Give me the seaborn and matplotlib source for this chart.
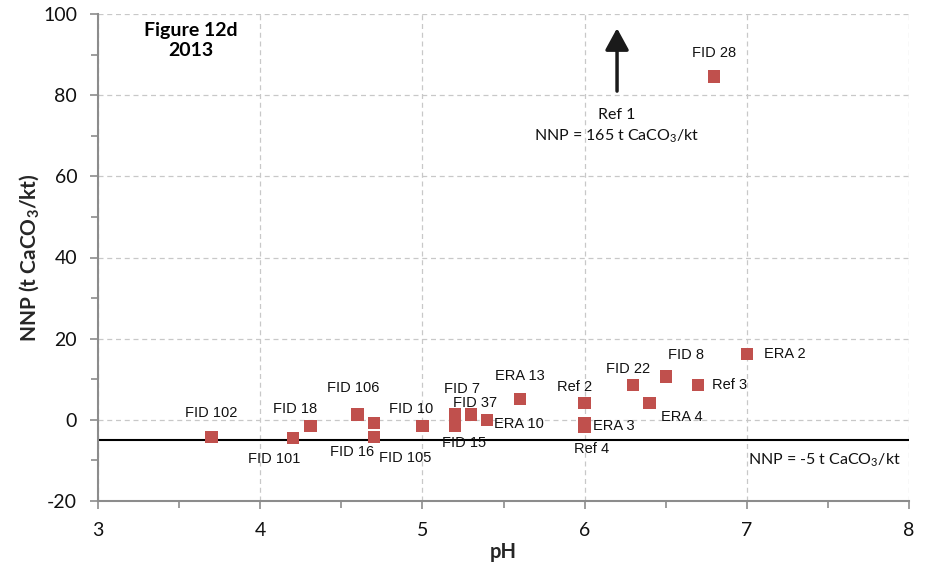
import matplotlib
matplotlib.use("Agg")
import matplotlib.pyplot as plt
import seaborn as sns
import pandas as pd
from matplotlib.ticker import MultipleLocator

# ---- data ----
labels = ["FID 102", "FID 101", "FID 18", "FID 106", "FID 16", "FID 105",
          "FID 10", "FID 7", "FID 15", "FID 37", "ERA 10", "ERA 13",
          "Ref 2", "ERA 3", "Ref 4", "FID 22", "ERA 4", "FID 8",
          "Ref 3", "ERA 2", "FID 28"]
ph = [3.70, 4.20, 4.31, 4.60, 4.70, 4.70,
      5.00, 5.20, 5.20, 5.30, 5.40, 5.60,
      6.00, 6.00, 6.00, 6.30, 6.40, 6.50,
      6.70, 7.00, 6.80]
nnp = [-4.2, -4.5, -1.5, 1.3, -0.7, -4.2,
       -1.5, 1.5, -1.6, 1.3, 0.0, 5.1,
       4.2, -0.8, -1.8, 8.5, 4.2, 10.7,
       8.5, 16.3, 84.6]
threshold = -5
ref1_ph = 6.2
ref1_nnp = 165

# label offsets in pixels (styling)
offsets = {
    "FID 102": (0, 24), "FID 101": (-18, -21), "FID 18": (-15, 17),
    "FID 106": (-4, 27), "FID 16": (-22, -29), "FID 105": (31, -21),
    "FID 10": (-11, 17), "FID 7": (7, 25), "FID 15": (9, -17),
    "FID 37": (4, 12), "ERA 10": (32, -4), "ERA 13": (0, 23),
    "Ref 2": (-10, 16), "ERA 3": (29, -3), "Ref 4": (7, -22),
    "FID 22": (-5, 16), "ERA 4": (32, -14), "FID 8": (20, 21),
    "Ref 3": (31, 0), "ERA 2": (38, 0), "FID 28": (0, 23),
}

df = pd.DataFrame({"pH": ph, "NNP": nnp, "label": labels})

sns.set_theme(style="white")
plt.rcParams["font.family"] = ["Lato", "DejaVu Sans"]
plt.rcParams["mathtext.fontset"] = "custom"
plt.rcParams["mathtext.rm"] = "Lato"
plt.rcParams["mathtext.bf"] = "Lato:bold"
plt.rcParams["axes.unicode_minus"] = False

fig = plt.figure(figsize=(9.34, 5.67), dpi=100)
ax = fig.add_axes([98/934, 1-501/567, (909-98)/934, (501-14)/567])

ax.axhline(threshold, color="black", lw=1.5, zorder=2)

sns.scatterplot(data=df, x="pH", y="NNP", marker="s", s=78, color="#C0504D",
                edgecolor="none", linewidth=0, ax=ax, zorder=3, legend=False)

for lab, x, y in zip(labels, ph, nnp):
    dx, dy = offsets[lab]
    ax.annotate(lab, (x, y), xytext=(dx, dy), textcoords="offset pixels",
                ha="center", va="center", fontsize=10.5,
                family="Liberation Sans", color="#111111", zorder=4)

# arrow for Ref 1 (off scale)
ax.annotate("", xy=(ref1_ph, 96.5), xytext=(ref1_ph, 81),
            arrowprops=dict(arrowstyle="-|>,head_width=0.6,head_length=1.1",
                            color="#1a1a1a", lw=2.5, shrinkA=0, shrinkB=0))
ax.text(ref1_ph, 75.2, "Ref 1", ha="center", va="center", fontsize=11.5, color="#111111")
ax.text(ref1_ph, 69.8, "NNP = %d t CaCO$_3$/kt" % ref1_nnp, ha="center", va="center",
        fontsize=11.5, color="#111111")
ax.text(7.01, -10, "NNP = %d t CaCO$_3$/kt" % threshold, ha="left", va="center",
        fontsize=11.5, color="#111111")

ax.text(3.57, 93.5, "Figure 12d\n2013", ha="center", va="center", fontsize=14,
        fontweight="bold", linespacing=1.2, color="#000000")

ax.set_xlim(3, 8)
ax.set_ylim(-20, 100)
ax.xaxis.set_major_locator(MultipleLocator(1))
ax.xaxis.set_minor_locator(MultipleLocator(0.5))
ax.yaxis.set_major_locator(MultipleLocator(20))
ax.yaxis.set_minor_locator(MultipleLocator(10))
ax.grid(True, which="major", linestyle=(0, (4, 3)), color="#c8c8c8", lw=0.9)
ax.set_axisbelow(True)

for s in ["top", "right"]:
    ax.spines[s].set_visible(False)
for s in ["left", "bottom"]:
    ax.spines[s].set_color("#8c8c8c")
    ax.spines[s].set_linewidth(1.5)

ax.tick_params(axis="both", which="major", direction="out", length=6, width=1.2,
               color="#8c8c8c", labelsize=14, labelcolor="#111111", left=True, bottom=True)
ax.tick_params(axis="both", which="minor", direction="out", length=5, width=1.2,
               color="#8c8c8c", left=True, bottom=True)
ax.tick_params(axis="y", which="major", pad=9)
ax.tick_params(axis="x", which="major", pad=9)

ax.set_xlabel("pH", fontsize=14.5, fontweight="bold", labelpad=2)
ax.set_ylabel(r"NNP (t CaCO$_\mathbf{3}$/kt)", fontsize=15, fontweight="bold", labelpad=1)

fig.savefig("out.png", dpi=100)
